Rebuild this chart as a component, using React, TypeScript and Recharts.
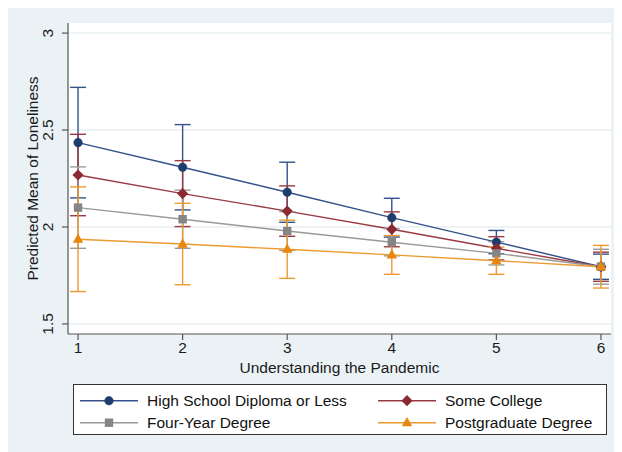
import React from 'react';
import { ComposedChart, Line, XAxis, YAxis, CartesianGrid, ErrorBar, Legend, Label } from 'recharts';

// Understanding the Pandemic (x)
const understanding = [1, 2, 3, 4, 5, 6];

// Predicted means and CI half-widths per education group
const highSchool = [2.435, 2.308, 2.179, 2.048, 1.922, 1.795];
const highSchoolErr = [0.285, 0.22, 0.155, 0.1, 0.06, 0.065];

const someCollege = [2.268, 2.172, 2.082, 1.988, 1.89, 1.795];
const someCollegeErr = [0.21, 0.17, 0.13, 0.09, 0.06, 0.075];

const fourYear = [2.1, 2.04, 1.979, 1.921, 1.864, 1.795];
const fourYearErr = [0.21, 0.15, 0.1, 0.07, 0.06, 0.09];

const postgrad = [1.937, 1.912, 1.885, 1.856, 1.826, 1.795];
const postgradErr = [0.27, 0.21, 0.15, 0.1, 0.07, 0.11];

const xTicks = [1, 2, 3, 4, 5, 6];
const yTicks = [1.5, 2, 2.5, 3];

const series = [
  { key: 'hs', name: 'High School Diploma or Less', color: '#34518a', marker: '#1c3d6e', shape: 'circle' },
  { key: 'sc', name: 'Some College', color: '#9a3a42', marker: '#8c2a34', shape: 'diamond' },
  { key: 'fy', name: 'Four-Year Degree', color: '#9a9a9a', marker: '#858585', shape: 'square' },
  { key: 'pg', name: 'Postgraduate Degree', color: '#ec9a30', marker: '#e8870e', shape: 'triangle' },
];

const data = understanding.map((x, i) => ({
  x,
  hs: highSchool[i],
  hsErr: highSchoolErr[i],
  sc: someCollege[i],
  scErr: someCollegeErr[i],
  fy: fourYear[i],
  fyErr: fourYearErr[i],
  pg: postgrad[i],
  pgErr: postgradErr[i],
}));

const FONT = '"Liberation Sans", Arial, Helvetica, sans-serif';
const FS = 15.5;

function MarkerShape({ cx, cy, shape, color }: { cx: number; cy: number; shape: string; color: string }) {
  if (cx == null || cy == null || isNaN(cx) || isNaN(cy)) return null;
  if (shape === 'circle') return <circle cx={cx} cy={cy} r={4.3} fill={color} stroke={color} strokeWidth={0.5} />;
  if (shape === 'diamond') {
    const s = 5.6;
    return <polygon points={`${cx},${cy - s} ${cx + s},${cy} ${cx},${cy + s} ${cx - s},${cy}`} fill={color} />;
  }
  if (shape === 'square') return <rect x={cx - 4.2} y={cy - 4.2} width={8.4} height={8.4} fill={color} />;
  return <polygon points={`${cx},${cy - 5.8} ${cx + 5.2},${cy + 3.6} ${cx - 5.2},${cy + 3.6}`} fill={color} />;
}

const YTick = (props: any) => {
  const { x, y, payload } = props;
  const bx = x - 8.5;
  return (
    <text x={bx} y={y} transform={`rotate(-90 ${bx} ${y})`} textAnchor="middle" fontFamily={FONT} fontSize={FS} fill="#1a1a1a">
      {payload.value}
    </text>
  );
};

const XTick = (props: any) => {
  const { x, y, payload } = props;
  return (
    <text x={x} y={y + 11} textAnchor="middle" fontFamily={FONT} fontSize={FS} fill="#1a1a1a">
      {payload.value}
    </text>
  );
};

const LegendBox = () => {
  const W = 534;
  const H = 51;
  const cols = [
    { lx1: 7, lx2: 65, mx: 36, tx: 74 },
    { lx1: 305, lx2: 363, mx: 334, tx: 372 },
  ];
  const rows = [16.7, 38.7];
  return (
    <svg width={W} height={H} style={{ display: 'block' }}>
      <rect x={0.5} y={0.5} width={W - 1} height={H - 1} fill="#ffffff" stroke="#333" strokeWidth={1} />
      {series.map((s, i) => {
        const c = cols[i % 2];
        const r = rows[Math.floor(i / 2)];
        return (
          <g key={s.key}>
            <line x1={c.lx1} x2={c.lx2} y1={r} y2={r} stroke={s.color} strokeWidth={1.4} />
            <MarkerShape cx={c.mx} cy={r} shape={s.shape} color={s.marker} />
            <text x={c.tx} y={r} dominantBaseline="central" fontFamily={FONT} fontSize={FS} fill="#111">
              {s.name}
            </text>
          </g>
        );
      })}
    </svg>
  );
};

export default function App() {
  return (
    <div style={{ width: 614, height: 444, background: '#ebf2f6' }}>
      <ComposedChart
        width={614}
        height={444}
        data={data}
        margin={{ top: 15, right: 11, bottom: 0, left: 0 }}
      >
        <CartesianGrid vertical={false} horizontal={true} fill="#ffffff" stroke="#e9eff3" strokeWidth={1.5} horizontalValues={yTicks} />
        <XAxis
          dataKey="x"
          type="number"
          domain={[0.904, 6.096]}
          ticks={xTicks}
          allowDataOverflow
          height={118}
          tickSize={6}
          tick={<XTick />}
          stroke="#555"
          strokeWidth={1.2}
          tickLine={{ stroke: '#555', strokeWidth: 1.2 }}
        >
          <Label
            content={(p: any) => {
              const vb = p.viewBox;
              return (
                <text x={vb.x + vb.width / 2} y={vb.y + 33} textAnchor="middle" dominantBaseline="central" fontFamily={FONT} fontSize={FS} fill="#1a1a1a">
                  Understanding the Pandemic
                </text>
              );
            }}
          />
        </XAxis>
        <YAxis
          type="number"
          domain={[1.448, 3.052]}
          ticks={yTicks}
          allowDataOverflow
          width={60}
          tickSize={6}
          tickMargin={0}
          tick={<YTick />}
          stroke="#555"
          strokeWidth={1.2}
          tickLine={{ stroke: '#555', strokeWidth: 1.2 }}
        >
          <Label
            content={(p: any) => {
              const vb = p.viewBox;
              const cx = 30.3;
              const cy = vb.y + vb.height / 2;
              return (
                <text x={cx} y={cy} transform={`rotate(-90 ${cx} ${cy})`} textAnchor="middle" fontFamily={FONT} fontSize={FS} fill="#1a1a1a">
                  Predicted Mean of Loneliness
                </text>
              );
            }}
          />
        </YAxis>
        {series.map((s) => (
          <Line
            key={s.key}
            dataKey={s.key}
            name={s.name}
            stroke={s.color}
            strokeWidth={1.4}
            isAnimationActive={false}
            dot={(p: any) => <MarkerShape key={`${s.key}-${p.index}`} cx={p.cx} cy={p.cy} shape={s.shape} color={s.marker} />}
            activeDot={false}
          >
            <ErrorBar dataKey={`${s.key}Err`} width={8} stroke={s.color} strokeWidth={1.4} direction="y" isAnimationActive={false} />
          </Line>
        ))}
        <Legend
          layout="horizontal"
          verticalAlign="middle"
          align="center"
          wrapperStyle={{ position: 'absolute', left: 65, top: 376, width: 534, height: 51 }}
          content={() => <LegendBox />}
        />
      </ComposedChart>
    </div>
  );
}
